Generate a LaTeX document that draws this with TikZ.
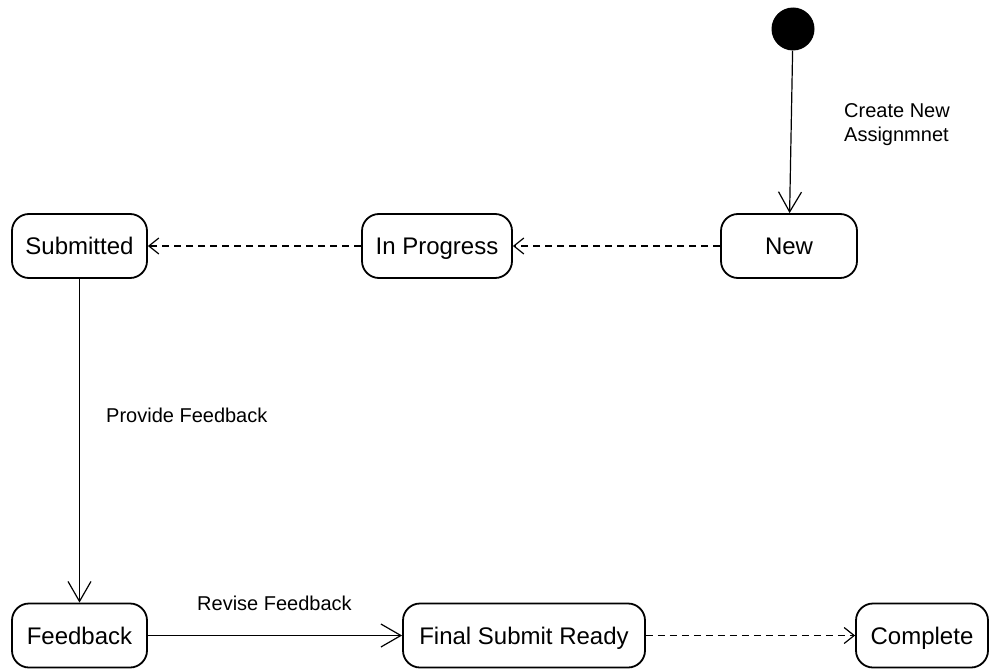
\documentclass[tikz,border=0pt]{standalone}
\usepackage{fontspec}
\setmainfont{Liberation Sans}
\usetikzlibrary{arrows.meta}

\tikzset{
  state/.style={draw, line width=1.8pt, rounded corners=17pt, minimum height=64pt,
    inner sep=0pt, text height=17.2pt, text depth=0pt,
    font=\fontsize{24}{28}\selectfont},
  initial/.style={circle, fill=black, minimum size=43pt, inner sep=0pt},
  trans/.style={line width=1.2pt, -{Straight Barb[length=20pt,width=23pt,line width=1.2pt]}},
  flow/.style={line width=1.3pt, dash pattern=on 7pt off 5pt,
    -{Straight Barb[length=10pt,width=16pt,line width=1.2pt]}},
  lbl/.style={anchor=west, inner sep=0pt, align=left,
    font=\fontsize{20}{24}\selectfont}
}

\begin{document}
\begin{tikzpicture}[x=1pt,y=1pt]
  \useasboundingbox (0,0) rectangle (990,-669);

  % states
  \node[initial] (start) at (793,-29) {};
  \node[state, minimum width=136pt] (new) at (789,-246) {New};
  \node[state, minimum width=150pt] (prog) at (437,-246) {In Progress};
  \node[state, minimum width=135pt] (sub) at (79.5,-246) {Submitted};
  \node[state, minimum width=135pt] (fb) at (79.5,-635.5) {Feedback};
  \node[state, minimum width=242pt] (final) at (524,-635.5) {Final Submit Ready};
  \node[state, minimum width=132pt] (done) at (922,-635.5) {Complete};

  % transitions
  \draw[trans] (start) -- (new);
  \draw[flow] (new) -- (prog);
  \draw[flow] (prog) -- (sub);
  \draw[trans] (sub) -- (fb);
  \draw[trans] (fb) -- (final);
  \draw[flow] (final) -- (done);

  % transition labels
  \node[lbl] (lcreate) at (844,-125) {Create New\\Assignmnet};
  \node[lbl] (lprov) at (106,-415) {Provide Feedback};
  \node[lbl] (lrev) at (197,-603) {Revise Feedback};
\end{tikzpicture}
\end{document}
